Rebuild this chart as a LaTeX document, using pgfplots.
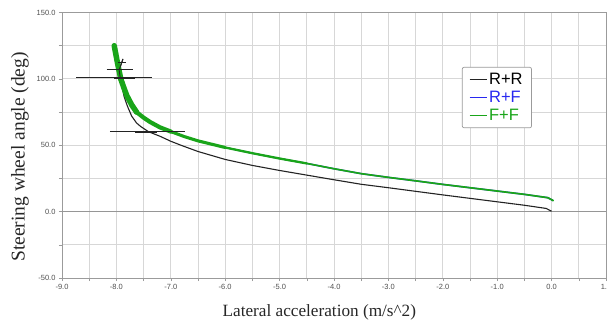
\documentclass[border=0pt]{standalone}
\usepackage{fontspec}
\setmainfont{Liberation Serif}
\setsansfont{Liberation Sans}
\usepackage{pgfplots}
\pgfplotsset{compat=1.18}
\definecolor{ffgreen}{RGB}{25,165,25}
\definecolor{rfblue}{RGB}{40,40,240}
\definecolor{axgray}{RGB}{155,155,155}
\definecolor{gridgray}{RGB}{215,215,215}
\definecolor{zerogray}{RGB}{150,150,150}
\definecolor{ticklab}{RGB}{80,80,80}
\definecolor{rrblack}{RGB}{35,35,35}

\begin{document}
\begin{tikzpicture}[x=1pt,y=1pt]
\begin{axis}[
  at={(0,0)}, anchor=south west,
  scale only axis, width=544pt, height=265.5pt,
  xmin=-9, xmax=1, ymin=-50, ymax=150,
  xtick={-9,-8,...,1}, ytick={-50,0,50,100,150},
  minor x tick num=1, minor y tick num=1,
  grid=both,
  major grid style={gridgray, line width=0.8pt},
  minor grid style={gridgray, line width=0.8pt},
  axis line style={axgray, line width=0.9pt},
  tick style={axgray, line width=0.6pt},
  tick align=outside, major tick length=3pt, minor tick length=3pt,
  xtick pos=bottom, ytick pos=left,
  /pgf/number format/fixed, /pgf/number format/fixed zerofill,
  /pgf/number format/precision=1,
  /pgf/number format/assume math mode=true,
  ticklabel style={font=\sffamily\fontsize{7.5}{9}\selectfont, text=ticklab},
  xlabel={Lateral acceleration (m/s\textasciicircum 2)},
  xlabel style={at={(axis description cs:0.473,0)}, anchor=center, yshift=-34pt,
    font=\fontsize{17.2}{20}\selectfont, text=black!85},
  ylabel={Steering wheel angle (deg)},
  ylabel style={at={(axis description cs:-0.0772,0.456)}, anchor=center,
    font=\fontsize{19.5}{22}\selectfont, text=black!85},
  legend style={at={(0.735,0.795)}, anchor=north west, draw=axgray, line width=0.7pt,
    rounded corners=2pt, font=\sffamily\fontsize{16.5}{18}\selectfont,
    inner xsep=7pt, inner ysep=4pt, row sep=1pt},
  legend cell align=left,
  legend image code/.code={\draw[#1] (0pt,0pt) -- (17pt,0pt);},
]
\addlegendimage{rrblack, line width=0.9pt}
\addlegendentry{R+R}
\addlegendimage{rfblue, line width=0.9pt}
\addlegendentry{\textcolor{rfblue}{R+F}}
\addlegendimage{ffgreen, line width=0.9pt}
\addlegendentry{\textcolor{ffgreen}{F+F}}

% zero line
\addplot[zerogray, line width=1.3pt, forget plot] coordinates {(-9,0) (1,0)};

% R+F (hidden under F+F)
\addplot[rfblue, line width=1.5pt, forget plot] coordinates {
(-8.04,125) (-7.98,112) (-7.92,100) (-7.86,93) (-7.81,87.5) (-7.72,80.5)
(-7.63,75) (-7.5,70.8) (-7.38,67.5) (-7.2,63.5) (-7.0,60.3) (-6.75,56.5)
(-6.5,53.3) (-6.0,48.3) (-5.5,44) (-5.0,40) (-4.5,36.3) (-4.0,32.3)
(-3.5,28.6) (-3.0,25.8) (-2.5,23.2) (-2.0,20.5) (-1.5,18) (-1.0,15.5)
(-0.5,13) (-0.07,10.5) (0.03,8.3)};

% R+R main line
\addplot[rrblack, line width=1.1pt, forget plot] coordinates {
(0,0.3) (-0.1,2.4) (-0.5,4.8) (-1.0,7.4) (-1.5,10) (-2.0,12.6) (-2.5,15.3)
(-3.0,18.0) (-3.5,20.6) (-4.0,24.0) (-4.5,27.5) (-5.0,31.0) (-5.5,34.8)
(-6.0,39.3) (-6.5,45.3) (-6.8,49.8) (-7.0,53) (-7.2,56.8) (-7.41,60.2)
(-7.55,64) (-7.63,66.8) (-7.72,72) (-7.8,79.7) (-7.86,87) (-7.9,95)
(-7.93,100.8) (-7.95,106.8) (-7.9,112.5) (-7.88,115)};

% F+F, width tapering
\addplot[ffgreen, line width=5.5pt, line cap=round, forget plot] coordinates {
(-8.04,125) (-7.98,112) (-7.92,100) (-7.86,93) (-7.81,87.5) (-7.72,80.5) (-7.63,75)};
\addplot[ffgreen, line width=4.2pt, line cap=round, forget plot] coordinates {
(-7.63,75) (-7.5,70.8) (-7.38,67.5) (-7.2,63.5) (-7.0,60.3)};
\addplot[ffgreen, line width=3.1pt, line cap=round, forget plot] coordinates {
(-7.0,60.3) (-6.75,56.5) (-6.5,53.3) (-6.0,48.3)};
\addplot[ffgreen, line width=2.3pt, line cap=round, forget plot] coordinates {
(-6.0,48.3) (-5.5,44) (-5.0,40) (-4.5,36.3)};
\addplot[ffgreen, line width=1.7pt, line cap=round, forget plot] coordinates {
(-4.5,36.3) (-4.0,32.3) (-3.5,28.6) (-3.0,25.8) (-2.5,23.2) (-2.0,20.5)
(-1.5,18) (-1.0,15.5) (-0.5,13) (-0.07,10.5) (0.03,8.3)};

% R+R noise spikes
\addplot[rrblack, line width=1.0pt, forget plot] coordinates {(-8.12,60) (-6.74,60)};
\addplot[rrblack, line width=2.0pt, forget plot] coordinates {(-7.65,59.8) (-7.25,59.8)};
\addplot[rrblack, line width=1.0pt, forget plot] coordinates {(-8.74,100.8) (-7.35,100.8)};
\addplot[rrblack, line width=2.0pt, forget plot] coordinates {(-8.05,100.8) (-7.65,100.8)};
\addplot[rrblack, line width=1.2pt, forget plot] coordinates {(-8.18,106.8) (-7.69,106.8)};
\addplot[rrblack, line width=1.0pt, forget plot] coordinates {(-7.97,112.5) (-7.83,112.5)};
\addplot[rrblack, line width=0.9pt, forget plot] coordinates {(-7.93,100.8) (-7.95,106.8) (-7.9,112.5) (-7.88,115)};
\end{axis}
\pgfresetboundingbox
\path[use as bounding box] (-62,-46) rectangle (545,278);
\end{tikzpicture}
\end{document}
